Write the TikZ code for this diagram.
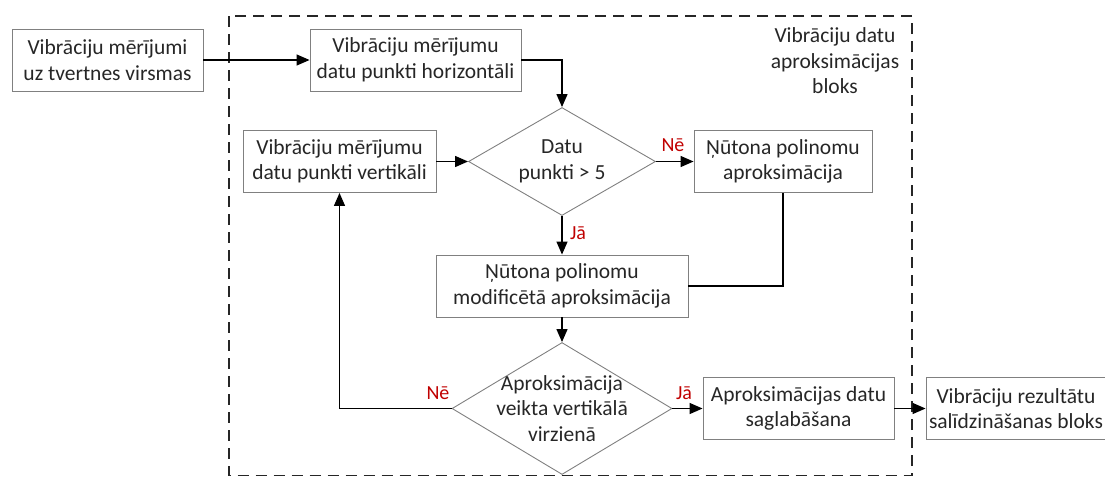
\documentclass[tikz,border=0pt]{standalone}
\usepackage{fontspec}
\setmainfont{Carlito}
\usetikzlibrary{arrows.meta,shapes.geometric}
\definecolor{boxgray}{RGB}{128,128,128}
\definecolor{lbred}{RGB}{192,0,0}
\definecolor{txt}{RGB}{38,38,38}
\begin{document}
\begin{tikzpicture}[x=1pt,y=-1pt,
  every node/.style={font=\fontsize{21.5}{25.5}\selectfont, text=txt},
  procbox/.style={draw=boxgray, line width=0.9pt, rectangle, align=center, inner sep=0pt, minimum height=62pt},
  decbox/.style={draw=boxgray, line width=0.9pt, diamond, inner sep=0pt},
  dectext/.style={align=center, inner sep=0pt},
  flow/.style={draw=black, line width=1.3pt, -{Triangle[length=13pt,width=11pt]}},
  plainline/.style={draw=black, line width=1.3pt},
  lbl/.style={text=lbred, font=\fontsize{20}{24}\selectfont, inner sep=0pt},
  region/.style={draw=black!85, line width=1.3pt, dash pattern=on 11pt off 7pt}]
\useasboundingbox (0,0) rectangle (1105,477);
\clip (0,0) rectangle (1105,477);

% dashed block boundary
\draw[region] (229,16) rectangle (912,475.5);
\node[align=center, inner sep=0pt] (blk) at (835,61) {Vibrāciju datu\\aproksimācijas\\bloks};

% process boxes
\node[procbox, minimum width=191pt] (A) at (107.5,60) {Vibrāciju mērījumi\\uz tvertnes virsmas};
\node[procbox, minimum width=211pt] (B) at (415.5,60) {Vibrāciju mērījumu\\datu punkti horizontāli};
\node[procbox, minimum width=193pt] (C) at (339.5,161.5) {Vibrāciju mērījumu\\datu punkti vertikāli};
\node[procbox, minimum width=178pt] (D) at (783,161.5) {Ņūtona polinomu\\aproksimācija};
\node[procbox, minimum width=252pt] (E) at (562,286) {Ņūtona polinomu\\modificētā aproksimācija};
\node[procbox, minimum width=191pt] (F) at (798.5,408.5) {Aproksimācijas datu\\saglabāšana};
\node[procbox, minimum width=180pt] (G) at (1016,408.5) {Vibrāciju rezultātu\\salīdzināšanas bloks};

% decisions
\node[decbox, minimum width=187pt, minimum height=108pt] (d1) at (562,161.5) {};
\node[dectext] (t1) at (d1.center) {Datu\\punkti > 5};
\node[decbox, minimum width=220pt, minimum height=132pt] (d2) at (562,408.5) {};
\node[dectext] (t2) at (d2.center) {Aproksimācija\\veikta vertikālā\\virzienā};

% connectors
\draw[flow] (A.east) -- (B.west);
\draw[flow] (B.east) -| (d1.north);
\draw[flow] (C.east) -- (d1.west);
\draw[flow] (d1.east) -- (D.west);
\draw[flow] (d1.south) -- (E.north);
\draw[plainline] (D.south) |- (E.east);
\draw[flow] (E.south) -- (d2.north);
\draw[flow] (d2.west) -| (C.south);
\draw[flow] (d2.east) -- (F.west);
\draw[flow] (F.east) -- (G.west);

% branch labels
\node[lbl] (n1) at (673,145) {Nē};
\node[lbl] (j1) at (578,233) {Jā};
\node[lbl] (n2) at (438,393) {Nē};
\node[lbl] (j2) at (684,393) {Jā};
\end{tikzpicture}
\end{document}
